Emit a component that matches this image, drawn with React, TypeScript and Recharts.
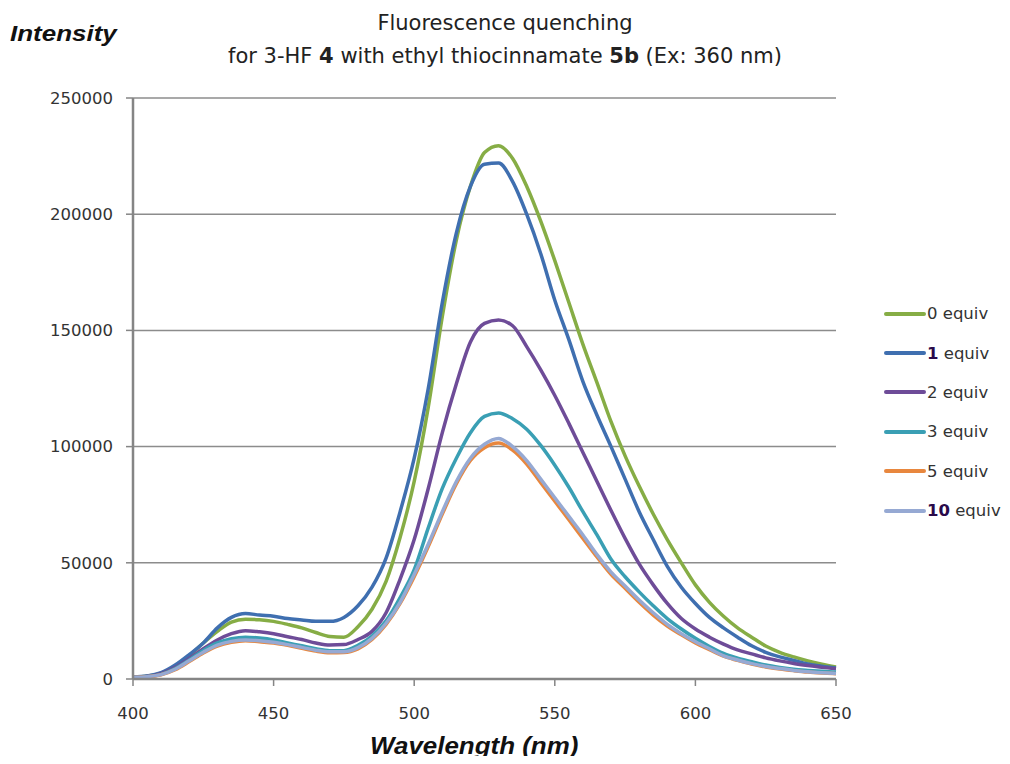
import React from 'react';
import { LineChart, Line, XAxis, YAxis, CartesianGrid } from 'recharts';

const wavelengths = [
  400, 405, 410, 415, 420, 425, 430, 435, 440, 445, 450, 455, 460, 465, 470, 475, 480, 485, 490, 495,
  500, 505, 510, 515, 520, 525, 530, 535, 540, 545, 550, 555, 560, 565, 570, 575, 580, 585, 590, 595,
  600, 605, 610, 615, 620, 625, 630, 635, 640, 645, 650,
];

const equiv0 = [
  800, 1200, 2500, 5500, 10000, 15500, 20500, 24500, 25700, 25500, 24800, 23500, 22000, 20000, 18300, 18000, 22500, 30000, 42000, 61000,
  85000, 117000, 156000, 189000, 212000, 226500, 229500, 224000, 212000, 197000, 180000, 162000, 144000, 127500, 110700, 96000, 83000, 71000, 60000, 50000,
  40500, 33000, 27000, 22000, 18000, 14200, 11500, 9500, 7800, 6400, 5200,
];

const equiv1 = [
  900, 1300, 2700, 6000, 10500, 15500, 22000, 26500, 28200, 27500, 27000, 26000, 25400, 24800, 24800, 26500, 31500, 39500, 52000, 72000,
  95000, 125000, 162000, 192000, 212000, 221500, 222000, 214000, 200000, 183000, 163000, 146000, 128000, 113500, 100000, 86000, 72000, 60000, 48500, 39500,
  32500, 26500, 22000, 18000, 14300, 11500, 9500, 8000, 6500, 5500, 4700,
];

const equiv2 = [
  800, 1100, 2300, 5000, 8800, 13000, 16800, 19500, 20800, 20300, 19500, 18200, 17000, 15500, 14600, 14800, 17000, 20500, 28500, 43000,
  60000, 82000, 106000, 127000, 145000, 153000, 154500, 152000, 143000, 133000, 122000, 110000, 97500, 85000, 72500, 60500, 49500, 40500, 32500, 26000,
  21500, 18000, 15000, 12500, 10800, 9100, 7800, 6700, 5800, 5000, 4400,
];

const equiv3 = [
  700, 1000, 2000, 4500, 8200, 12300, 15500, 17300, 18000, 17600, 16800, 15500, 14300, 13000, 12200, 12200, 14500, 18500, 25000, 35000,
  47000, 65000, 82000, 95000, 106000, 113000, 114500, 112000, 107500, 100500, 92000, 82500, 72000, 62000, 51500, 44000, 37500, 31500, 26000, 21500,
  17500, 14000, 11000, 9000, 7400, 6000, 5000, 4200, 3700, 3300, 3000,
];

const equiv5 = [
  700, 950, 1800, 4000, 7500, 11200, 14200, 15800, 16500, 16000, 15500, 14500, 13200, 12000, 11300, 11400, 13000, 17000, 23500, 32500,
  44000, 57000, 71000, 84000, 94000, 99500, 101500, 98500, 92500, 84500, 76500, 68500, 60500, 52500, 45000, 39000, 33000, 27500, 22800, 19000,
  15500, 12600, 9800, 8000, 6400, 5200, 4300, 3600, 3000, 2600, 2300,
];

const equiv10 = [
  700, 1000, 1900, 4200, 7800, 11500, 14600, 16200, 16800, 16500, 15800, 14800, 13600, 12400, 11700, 11700, 13500, 17500, 24000, 33000,
  45000, 58000, 72000, 85000, 95000, 101000, 103500, 100000, 94000, 86000, 78000, 70000, 62000, 53500, 46000, 40000, 34000, 28500, 23500, 19500,
  16000, 13000, 10000, 8200, 6600, 5400, 4500, 3700, 3100, 2700, 2400,
];

const xTicks = [400, 450, 500, 550, 600, 650];
const yTicks = [0, 50000, 100000, 150000, 200000, 250000];

const series = [
  { key: 'e0', num: '0', bold: false, values: equiv0, color: '#86AD45' },
  { key: 'e1', num: '1', bold: true, values: equiv1, color: '#3F6FB0' },
  { key: 'e2', num: '2', bold: false, values: equiv2, color: '#6E4C98' },
  { key: 'e3', num: '3', bold: false, values: equiv3, color: '#3A9FB4' },
  { key: 'e5', num: '5', bold: false, values: equiv5, color: '#E8873E' },
  { key: 'e10', num: '10', bold: true, values: equiv10, color: '#96A9D3' },
];

const data = wavelengths.map((wl, i) => {
  const row: Record<string, number> = { wl };
  series.forEach((s) => {
    row[s.key] = s.values[i];
  });
  return row;
});

const tickStyle = { fontFamily: 'DejaVu Sans', fontSize: 16.5, fill: '#333' };

export default function App() {
  return (
    <div style={{ position: 'relative', width: 1010, height: 764, margin: -8, background: '#fff', fontFamily: 'DejaVu Sans', overflow: 'hidden' }}>
      <div style={{ position: 'absolute', left: 0, width: 1010, top: 7, textAlign: 'center', fontSize: 21, lineHeight: '33px', color: '#222' }}>
        <div>Fluorescence quenching</div>
        <div>
          for 3-HF <b>4</b> with ethyl thiocinnamate <b>5b</b> (Ex: 360 nm)
        </div>
      </div>
      <div
        style={{
          position: 'absolute',
          left: 10,
          top: 21,
          fontFamily: 'Liberation Sans',
          fontWeight: 'bold',
          fontStyle: 'italic',
          fontSize: 22,
          color: '#111',
          transform: 'scaleX(1.18)',
          transformOrigin: 'left center',
        }}
      >
        Intensity
      </div>
      <div
        style={{
          position: 'absolute',
          left: 370,
          top: 732,
          fontFamily: 'Liberation Sans',
          fontWeight: 'bold',
          fontStyle: 'italic',
          fontSize: 24,
          color: '#111',
          transform: 'scaleX(1.08)',
          transformOrigin: 'left center',
        }}
      >
        Wavelength (nm)
      </div>
      <LineChart width={1010} height={764} data={data} margin={{ top: 98, right: 174, bottom: 0, left: 0 }}>
        <CartesianGrid horizontal vertical={false} stroke="#8c8c8c" strokeWidth={1.5} />
        <XAxis
          dataKey="wl"
          type="number"
          domain={[400, 650]}
          ticks={xTicks}
          height={85}
          tick={tickStyle}
          tickSize={7}
          tickMargin={21}
          stroke="#858585"
          strokeWidth={2.5}
          tickLine={{ stroke: '#858585', strokeWidth: 1.5 }}
        />
        <YAxis
          type="number"
          domain={[0, 250000]}
          ticks={yTicks}
          width={133}
          tick={tickStyle}
          tickSize={7}
          tickMargin={13}
          stroke="#858585"
          strokeWidth={2.5}
          tickLine={{ stroke: '#858585', strokeWidth: 1.5 }}
        />
        {series.map((s) => (
          <Line
            key={s.key}
            dataKey={s.key}
            type="monotone"
            stroke={s.color}
            strokeWidth={3.5}
            dot={false}
            isAnimationActive={false}
          />
        ))}
      </LineChart>
      <div style={{ position: 'absolute', left: 884, top: 294, width: 124 }}>
        {series.map((s) => (
          <div
            key={s.key}
            style={{ display: 'flex', alignItems: 'center', height: 39.4, fontSize: 16.5, color: '#333', whiteSpace: 'nowrap' }}
          >
            <span style={{ display: 'inline-block', width: 42, height: 4, background: s.color, borderRadius: 2, marginRight: 1, flexShrink: 0 }} />
            <span>
              {s.bold ? <b style={{ color: '#2a0a4a' }}>{s.num}</b> : s.num} equiv
            </span>
          </div>
        ))}
      </div>
    </div>
  );
}
